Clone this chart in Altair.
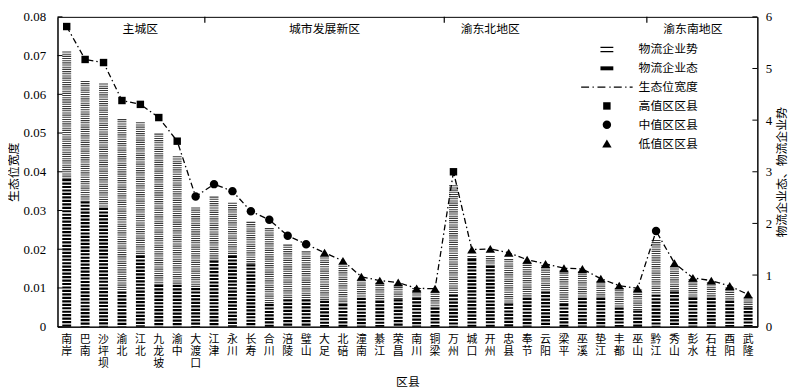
import altair as alt
import pandas as pd

names = ["南岸", "巴南", "沙坪坝", "渝北", "江北", "九龙坡", "渝中", "大渡口",
         "江津", "永川", "长寿", "合川", "涪陵", "璧山", "大足", "北碚", "潼南",
         "綦江", "荣昌", "南川", "铜梁",
         "万州", "城口", "开州", "忠县", "奉节", "云阳", "梁平", "巫溪", "垫江",
         "丰都", "巫山",
         "黔江", "秀山", "彭水", "石柱", "酉阳", "武隆"]

breadth = [0.0775, 0.0690, 0.0682, 0.0584, 0.0574, 0.0540, 0.0479, 0.0336,
           0.0368, 0.0350, 0.0298, 0.0276, 0.0235, 0.0213, 0.0191, 0.0170, 0.0129,
           0.0119, 0.0114, 0.0099, 0.0098,
           0.0400, 0.0199, 0.0201, 0.0191, 0.0173, 0.0162, 0.0151, 0.0149, 0.0124,
           0.0106, 0.0099,
           0.0247, 0.0164, 0.0126, 0.0119, 0.0105, 0.0083]

level = ["高值区区县"] * 7 + ["中值区区县"] * 7 + ["低值区区县"] * 7 + \
        ["高值区区县"] + ["低值区区县"] * 10 + ["中值区区县"] + ["低值区区县"] * 5

tai = [2.86, 2.43, 2.30, 0.68, 1.37, 0.81, 0.81, 0.75,
       1.28, 1.37, 1.21, 0.44, 0.53, 0.53, 0.50, 0.44, 0.56,
       0.50, 0.53, 0.56, 0.37,
       0.62, 1.31, 1.18, 0.45, 0.56, 0.68, 0.44, 0.56, 0.56,
       0.37, 0.31,
       0.62, 0.68, 0.56, 0.56, 0.50, 0.37]

shi = [2.47, 2.33, 2.41, 3.34, 2.59, 2.93, 2.49, 1.56,
       1.24, 1.03, 0.82, 1.47, 1.06, 0.93, 0.84, 0.74, 0.34,
       0.35, 0.28, 0.19, 0.31,
       2.12, 0.06, 0.19, 0.86, 0.68, 0.51, 0.65, 0.51, 0.32,
       0.38, 0.41,
       1.06, 0.49, 0.36, 0.30, 0.26, 0.20]

regions = ["主城区", "城市发展新区", "渝东北地区", "渝东南地区"]
region_anchor = ["江北", "大足", "开州", "彭水"]      # county under each region label
region_first = ["江津", "万州", "黔江"]               # first county after each divider

left_ticks = [0, 0.01, 0.02, 0.03, 0.04, 0.05, 0.06, 0.07, 0.08]
right_ticks = [0, 1, 2, 3, 4, 5, 6]

legend_labels = ["物流企业势", "物流企业态", "生态位宽度",
                 "高值区区县", "中值区区县", "低值区区县"]
legend_paths = [
    "M-1.3,-0.55H1.3V-0.3H-1.3Z M-1.3,0.3H1.3V0.55H-1.3Z",
    "M-1.3,-0.4H1.3V0.4H-1.3Z",
    "M-5.2,-0.13H-3.6V0.13H-5.2Z M-2.9,-0.13H-2.64V0.13H-2.9Z "
    "M-1.9,-0.13H-0.3V0.13H-1.9Z M0.5,-0.13H0.76V0.13H0.5Z "
    "M1.4,-0.13H3.0V0.13H1.4Z M3.7,-0.13H3.96V0.13H3.7Z "
    "M4.6,-0.13H5.2V0.13H4.6Z",
    "M-0.75,-0.75H0.75V0.75H-0.75Z",
    "M-0.85,0A0.85,0.85,0,1,1,0.85,0A0.85,0.85,0,1,1,-0.85,0Z",
    "M0,-0.8L0.95,0.8H-0.95Z",
]

W, H = 707, 313
FONT = "Liberation Serif, Noto Sans CJK SC"

df = pd.DataFrame({
    "name": names,
    "breadth": breadth,
    "level": level,
    "tai": tai,
    "top": [a + b for a, b in zip(tai, shi)],
})
reg_df = pd.DataFrame({"name": region_anchor, "region": regions})
bound_df = pd.DataFrame({"name": region_first})
lt_df = pd.DataFrame({"t": left_ticks})
rt_df = pd.DataFrame({"t": right_ticks})

xscale = alt.Scale(domain=names, paddingInner=0, paddingOuter=0)
xaxis = alt.Axis(labelExpr="split(datum.label, '')",
                 title="区县", ticks=False, grid=False, labelAngle=0,
                 labelBaseline="top", labelAlign="center", labelLineHeight=12,
                 labelFontSize=11, labelPadding=7, labelOverlap=False,
                 titlePadding=8, titleFontSize=12)


def X(**kw):
    return alt.X("name:N", scale=xscale, axis=xaxis, **kw)


lscale = alt.Scale(domain=[0, 0.08], nice=False, zero=True)
rscale = alt.Scale(domain=[0, 6], nice=False, zero=True)

laxis = alt.Axis(orient="left", values=left_ticks, ticks=False, grid=False,
                 labelExpr="datum.value == 0 ? '0' : format(datum.value, '.2f')",
                 labelPadding=12, labelFontSize=13, title="生态位宽度",
                 titleFontSize=12, titlePadding=3)
raxis = alt.Axis(orient="right", values=right_ticks, ticks=False, grid=False,
                 format="d", labelPadding=8, labelFontSize=13,
                 title="物流企业态、物流企业势", titleFontSize=12,
                 titleAngle=270, titleBaseline="top", titlePadding=5)

bars_tai = alt.Chart(df).mark_rule(strokeWidth=9, strokeDash=[2.2, 1.3],
                                   color="black").encode(
    x=X(),
    y=alt.Y("tai:Q", scale=rscale, axis=raxis),
    y2=alt.datum(0),
)
bars_shi = alt.Chart(df).mark_rule(strokeWidth=9, strokeDash=[1.1, 1.1],
                                   color="#3a3a3a").encode(
    x=X(),
    y=alt.Y("top:Q", scale=rscale, axis=None),
    y2="tai:Q",
)
rticks = alt.Chart(rt_df).mark_rule(color="black").encode(
    y=alt.Y("t:Q", scale=rscale, axis=None),
    x=alt.value(W - 5), x2=alt.value(W),
)

line = alt.Chart(df).mark_line(color="black", strokeWidth=1.3,
                               strokeDash=[6, 3, 1.5, 3]).encode(
    x=X(),
    y=alt.Y("breadth:Q", scale=lscale, axis=laxis),
)
points = alt.Chart(df).mark_point(filled=True, size=100, opacity=1,
                                  color="black").encode(
    x=X(),
    y=alt.Y("breadth:Q", scale=lscale, axis=None),
    shape=alt.Shape("level:N",
                    scale=alt.Scale(domain=legend_labels, range=legend_paths),
                    legend=alt.Legend(orient="none", legendX=549, legendY=27,
                                      title=None, symbolSize=100,
                                      symbolFillColor="black",
                                      symbolStrokeWidth=0, symbolOpacity=1,
                                      labelFontSize=12, labelOffset=26,
                                      rowPadding=7, padding=0,
                                      labelFont=FONT, labelColor="black")),
)
lticks = alt.Chart(lt_df).mark_rule(color="black").encode(
    y=alt.Y("t:Q", scale=lscale, axis=None),
    x=alt.value(0), x2=alt.value(5),
)

reg_text = alt.Chart(reg_df).mark_text(fontSize=12, font=FONT, color="black",
                                       baseline="middle").encode(
    x=X(),
    y=alt.value(12),
    text="region:N",
)
reg_ticks = alt.Chart(bound_df).mark_rule(color="black", strokeWidth=1.2).encode(
    x=X(bandPosition=0),
    y=alt.value(0), y2=alt.value(6),
)

chart = alt.layer(bars_tai, bars_shi, rticks, line, points, lticks,
                  reg_text, reg_ticks).resolve_scale(
    y="independent"
).properties(
    width=W, height=H,
    padding={"left": 50, "top": 7, "right": 35, "bottom": 61},
    autosize=alt.AutoSizeParams(type="none"),
).configure_view(
    stroke="black", strokeWidth=1
).configure_axis(
    labelFont=FONT, titleFont=FONT, labelColor="black", titleColor="black",
    titleFontWeight="normal", domainColor="black", domainWidth=1
)

chart.save("out.html", embed_options={"renderer": "svg", "actions": False})
